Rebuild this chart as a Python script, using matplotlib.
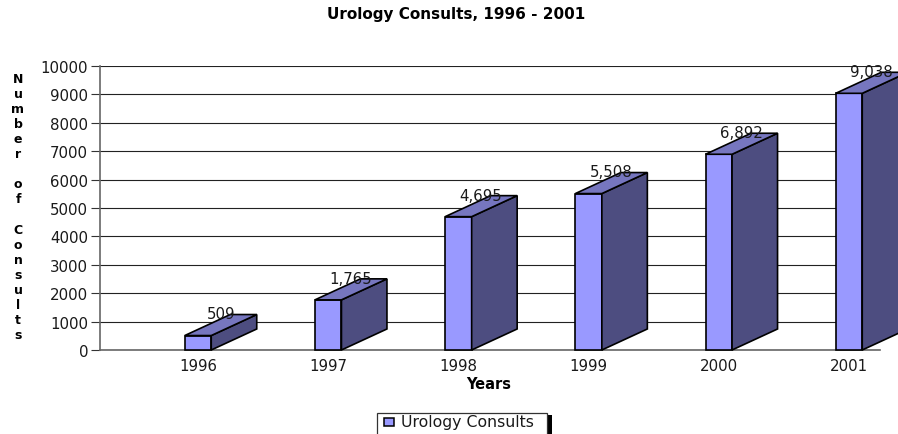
import matplotlib
matplotlib.use("Agg")
import matplotlib.pyplot as plt
from matplotlib.patches import Rectangle

years = ["1996", "1997", "1998", "1999", "2000", "2001"]
consults = [509, 1765, 4695, 5508, 6892, 9038]
value_labels = ["509", "1,765", "4,695", "5,508", "6,892", "9,038"]
yticks = [0, 1000, 2000, 3000, 4000, 5000, 6000, 7000, 8000, 9000, 10000]
ylabel_text = "Number of Consults"

W, H = 898, 435
front_color = "#9999FF"
top_color = "#7676BF"
side_color = "#4D4D80"
text_color = "#1a1a1a"

# axes box in pixels, 3d look is faked with polygons
left, right, top, bottom = 100, 880, 67, 351
fig = plt.figure(figsize=(W / 100, H / 100), dpi=100)
ax = fig.add_axes([left / W, 1 - bottom / H, (right - left) / W, (bottom - top) / H])

px_per_cat = 130.2
ax.set_xlim((left - 198) / px_per_cat, (right - 198) / px_per_cat)
ax.set_ylim(0, 10000)

bar_w = 26.5 / px_per_cat
depth_x = 45.5 / px_per_cat
depth_y = 740

for i, v in enumerate(consults):
    x0 = i - bar_w / 2
    x1 = i + bar_w / 2
    ax.fill([x0, x1, x1, x0], [0, 0, v, v], facecolor=front_color, edgecolor="black",
            linewidth=1.2, zorder=3, clip_on=False)
    ax.fill([x1, x1 + depth_x, x1 + depth_x, x1], [0, depth_y, v + depth_y, v],
            facecolor=side_color, edgecolor="black", linewidth=1.2, zorder=3, clip_on=False)
    ax.fill([x0, x1, x1 + depth_x, x0 + depth_x], [v, v, v + depth_y, v + depth_y],
            facecolor=top_color, edgecolor="black", linewidth=1.2, zorder=3, clip_on=False)
    ax.text(i + depth_x / 2, v + depth_y + 20, value_labels[i], ha="center", va="center",
            fontsize=10.8, color=text_color, zorder=4, clip_on=False)

ax.set_yticks(yticks)
ax.set_xticks(range(len(years)))
ax.set_xticklabels(years)
ax.tick_params(axis="y", length=6.5, width=0.8, color="#333333", labelsize=10.8, pad=2, labelcolor=text_color)
ax.tick_params(axis="x", length=0, labelsize=10.8, pad=6, labelcolor=text_color)
ax.yaxis.grid(True, color="#222222", linewidth=0.8)
ax.set_axisbelow(True)
for s in ["top", "right"]:
    ax.spines[s].set_visible(False)
for s in ["left", "bottom"]:
    ax.spines[s].set_color("#666666")
    ax.spines[s].set_linewidth(1.2)

fig.text(456 / W, 1 - 15 / H, "Urology Consults, 1996 - 2001", ha="center", va="center",
         fontsize=11, fontweight="bold", color="black")
fig.text(489 / W, 1 - 385 / H, "Years", ha="center", va="center",
         fontsize=10.5, fontweight="bold", color="black")
fig.text(18 / W, 1 - 207.5 / H, "\n".join(ylabel_text), ha="center", va="center",
         fontsize=9, fontweight="bold", color="black", linespacing=1.21)

# legend with the hard black shadow, runs off the bottom of the picture
fig.add_artist(Rectangle((547 / W, 0), 5 / W, 1 - 416 / H, transform=fig.transFigure,
                         facecolor="black", edgecolor="none"))
fig.add_artist(Rectangle((377 / W, -5 / H), 170 / W, 1 - 414 / H + 5 / H, transform=fig.transFigure,
                         facecolor="white", edgecolor="#333333", linewidth=0.9))
fig.add_artist(Rectangle((384 / W, 1 - 427 / H), 10 / W, 8 / H, transform=fig.transFigure,
                         facecolor=front_color, edgecolor="black", linewidth=1.1))
fig.text(401 / W, 1 - 423 / H, "Urology Consults", ha="left", va="center", fontsize=11.3, color=text_color)

fig.savefig("out.png", dpi=100)
